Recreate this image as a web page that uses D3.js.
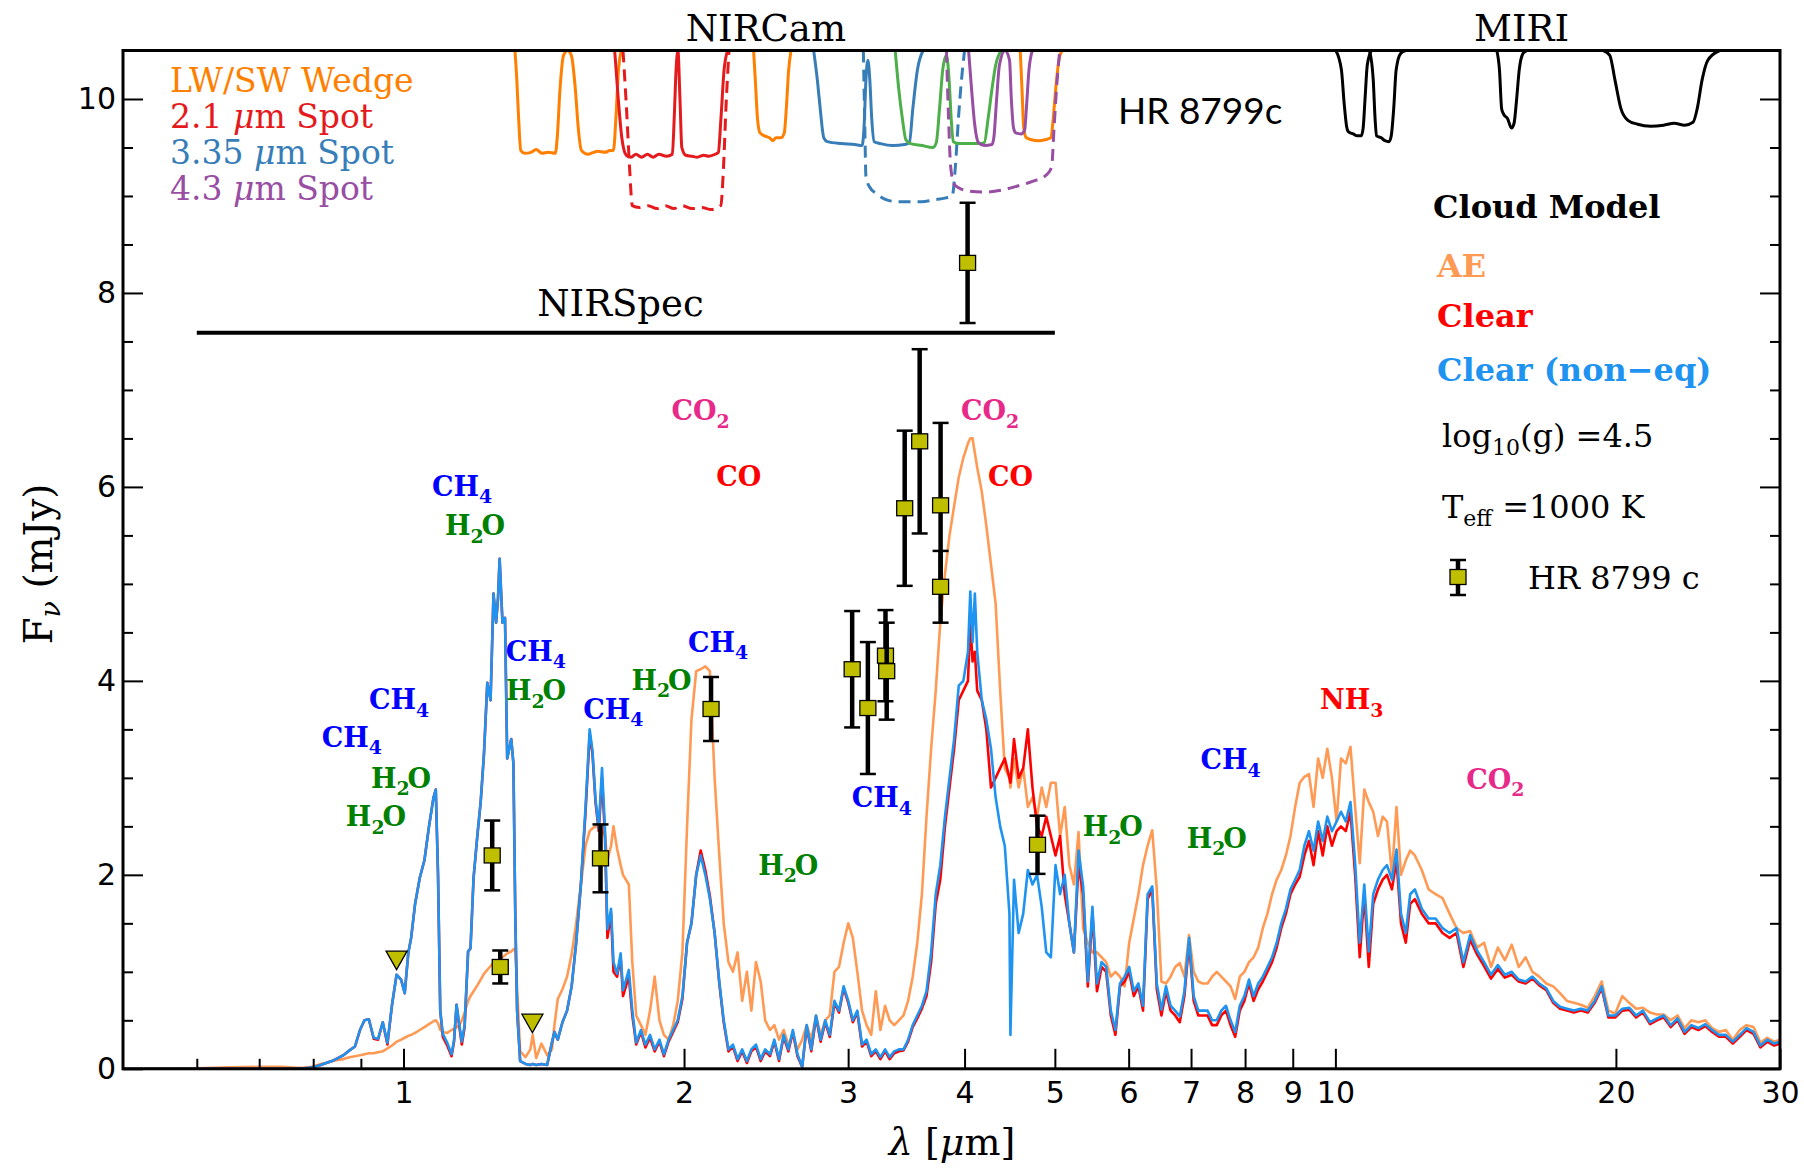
<!DOCTYPE html>
<html><head><meta charset="utf-8">
<script src="https://cdn.jsdelivr.net/npm/d3@7"></script>
<style>body{margin:0;background:#fff}svg{display:block}</style>
</head><body>
<svg id="chart" width="1804" height="1168"></svg>
<script>
// ---------------- DATA ----------------
const wavelength = [
0.50,0.55,0.60,0.65,0.70,0.74,0.77,
0.781,0.792,0.803,0.815,0.826,0.838,0.850,0.862,0.875,0.887,0.898,0.908,0.918,0.929,0.939,0.950,0.961,0.972,0.983,0.994,
1.003,1.012,1.019,1.029,1.041,1.053,1.065,1.077,1.083,1.089,1.095,1.102,1.114,1.126,
1.133,1.140,1.148,1.155,1.163,1.173,1.180,1.189,1.200,1.210,1.220,1.230,1.240,1.249,1.257,1.263,1.268,1.277,1.285,1.292,1.305,1.312,1.318,1.324,
1.334,1.352,1.368,1.376,1.388,1.406,1.426,1.443,1.452,1.464,1.481,1.498,
1.515,1.532,1.550,1.568,1.584,1.595,1.607,1.620,1.633,1.645,1.655,1.670,1.680,1.695,1.710,1.720,1.745,1.760,
1.777,1.798,1.818,1.839,1.860,1.882,1.903,1.925,1.947,1.969,1.992,
2.015,2.037,2.061,2.084,2.108,2.132,2.157,2.182,2.206,2.232,2.257,2.283,2.309,2.336,2.362,2.389,2.417,2.444,2.473,2.500,
2.529,2.558,2.588,2.617,2.647,2.678,2.708,2.739,2.771,2.803,2.835,2.867,2.900,2.933,2.967,3.001,3.035,3.069,
3.105,3.140,3.176,3.212,3.249,3.287,3.324,3.362,3.401,3.440,3.479,3.519,3.559,3.600,3.641,
3.683,3.725,3.767,3.811,3.854,3.898,3.943,3.988,4.034,4.057,4.080,4.103,4.127,
4.174,4.221,4.270,4.319,4.368,4.418,4.469,4.480,4.520,4.572,4.624,4.677,4.731,4.785,4.840,4.895,4.951,5.008,
5.065,5.123,5.182,5.241,5.301,5.362,5.424,5.486,5.548,5.612,5.676,5.741,5.807,5.873,5.940,6.008,
6.077,6.146,6.217,6.288,6.360,6.432,6.506,6.580,6.655,6.731,6.808,6.886,6.966,7.046,
7.126,7.208,7.291,7.374,7.459,7.544,7.631,7.718,7.807,7.896,7.986,8.078,8.170,
8.264,8.358,8.454,8.551,8.650,8.748,8.849,8.950,9.053,9.156,9.262,9.368,9.475,9.583,9.692,9.802,9.915,
10.03,10.14,10.26,10.38,10.50,10.62,10.74,10.86,10.98,11.11,11.24,11.36,11.50,11.63,11.76,11.90,12.03,12.17,
12.38,12.59,12.81,13.03,13.26,13.49,13.72,13.95,14.19,14.44,14.69,14.94,15.20,15.46,15.73,16.00,
16.27,16.55,16.84,17.13,17.42,17.72,18.03,18.34,18.66,18.98,19.31,19.63,19.97,20.32,20.67,21.02,21.38,21.76,22.13,22.51,22.90,23.29,23.70,24.10,24.52,24.94,25.37,25.80,26.24,26.70,27.16,27.62,28.10,28.58,29.07,29.57,30.0
];
const fluxAE = [
0,0,0.005,0.015,0.02,0.02,0.01,
0.01,0.015,0.03,0.05,0.06,0.08,0.09,0.1,0.12,0.13,0.14,0.15,0.16,0.16,0.17,0.18,0.21,0.24,0.28,0.3,
0.32,0.34,0.35,0.37,0.4,0.43,0.46,0.49,0.5,0.47,0.4,0.38,0.37,0.4,
0.41,0.43,0.45,0.5,0.58,0.7,0.75,0.8,0.86,0.92,0.98,1.02,1.06,1.09,1.11,1.12,1.13,1.15,1.17,1.19,1.21,1.23,1.24,0.83,
0.18,0.12,0.2,0.35,0.11,0.26,0.14,0.2,0.45,0.72,0.82,0.95,
1.18,1.5,1.9,2.3,2.45,2.48,2.5,2.5,2.45,2.4,2.15,2.3,2.5,2.27,2.1,2.0,1.9,1.1,
0.55,0.45,0.35,0.6,0.95,0.5,0.35,0.3,0.45,0.7,1.2,
2.5,3.6,4.1,4.12,4.15,4.1,3.0,2.2,1.5,1.1,1.0,1.2,0.7,1.0,0.6,1.1,0.9,0.5,0.4,0.45,
0.3,0.4,0.25,0.35,0.2,0.3,0.45,0.3,0.55,0.35,0.5,0.55,1.0,1.05,1.3,1.5,1.35,1.0,
0.6,0.45,0.35,0.8,0.4,0.65,0.5,0.45,0.5,0.55,0.7,0.95,1.3,1.8,2.6,
3.3,3.9,4.6,5.1,5.5,5.8,6.1,6.3,6.45,6.5,6.5,6.35,6.2,
5.95,5.6,5.2,4.8,3.9,3.1,3.0,2.9,3.2,2.9,3.1,2.7,2.8,2.6,2.9,2.7,2.95,2.95,
2.4,2.7,2.1,1.9,2.44,1.45,1.3,1.2,1.2,1.15,1.1,0.95,1.0,0.95,0.85,1.3,
1.55,1.8,2.1,2.3,2.46,1.85,0.9,0.88,0.95,1.05,1.09,0.95,1.38,1.0,
0.9,0.88,0.88,0.95,1.0,0.95,0.9,0.85,0.72,0.95,1.0,1.1,1.15,
1.25,1.45,1.6,1.8,1.95,2.05,2.2,2.4,2.7,2.95,3.01,3.04,2.7,3.2,3.0,3.3,3.0,
2.55,3.2,3.15,3.32,2.7,2.12,2.88,2.75,2.65,2.4,2.6,2.55,2.0,2.7,2.0,2.15,2.25,2.2,
2.05,1.85,1.8,1.76,1.6,1.45,1.4,1.42,1.25,1.3,1.05,1.25,1.12,1.28,1.05,1.15,
1.0,0.95,0.88,0.85,0.78,0.7,0.68,0.66,0.63,0.75,0.9,0.6,0.57,0.75,0.68,0.62,0.63,0.58,0.56,0.56,0.5,0.55,0.42,0.5,0.48,0.5,0.42,0.38,0.4,0.3,0.4,0.45,0.43,0.27,0.32,0.28,0.3
];
const fluxClear = [
0,0,0,0,0,0,0,
0.005,0.01,0.02,0.04,0.06,0.08,0.11,0.14,0.19,0.23,0.4,0.5,0.51,0.31,0.3,0.48,0.25,0.66,0.97,0.92,
0.78,1.2,1.35,1.7,1.97,2.15,2.5,2.8,2.88,2.0,0.6,0.33,0.24,0.13,
0.28,0.66,0.43,0.25,0.43,1.21,1.24,1.97,2.4,2.75,3.25,3.98,3.8,4.9,4.6,4.85,5.26,4.6,4.65,3.2,3.4,3.15,1.6,0.6,
0.08,0.05,0.04,0.05,0.04,0.05,0.04,0.27,0.38,0.3,0.48,0.6,
0.85,1.3,1.9,2.65,3.45,3.25,2.75,2.45,3.0,2.4,1.35,1.6,1.0,0.95,1.15,0.75,0.95,0.55,
0.25,0.38,0.22,0.32,0.18,0.28,0.13,0.28,0.38,0.48,0.72,
1.3,1.5,2.0,2.25,2.05,1.78,1.4,0.88,0.48,0.18,0.23,0.08,0.18,0.06,0.18,0.23,0.08,0.18,0.13,0.28,
0.08,0.33,0.18,0.38,0.13,0.02,0.43,0.18,0.53,0.28,0.48,0.33,0.68,0.58,0.83,0.68,0.48,0.58,
0.23,0.28,0.13,0.18,0.1,0.18,0.1,0.16,0.18,0.19,0.28,0.43,0.52,0.62,0.75,
1.1,1.7,1.95,2.5,2.9,3.3,3.8,3.9,4.0,4.6,4.2,4.3,3.9,
3.8,3.5,2.9,3.0,3.1,3.2,3.0,2.95,3.4,3.0,3.1,3.5,2.9,2.5,2.4,2.6,2.4,2.2,
2.4,1.8,1.5,1.2,2.1,1.8,0.85,1.6,0.8,1.05,1.0,0.55,0.35,0.85,0.9,1.0,
0.75,0.85,0.6,1.75,1.85,0.82,0.55,0.8,0.6,0.55,0.48,0.75,1.3,0.7,
0.55,0.55,0.55,0.45,0.45,0.55,0.6,0.45,0.33,0.6,0.7,0.88,0.7,
0.82,0.9,1.0,1.1,1.25,1.45,1.6,1.8,1.9,1.98,2.2,2.35,2.1,2.45,2.2,2.5,2.3,
2.45,2.5,2.45,2.65,2.0,1.15,1.8,1.05,1.7,1.85,1.95,2.0,1.85,2.15,1.5,1.3,1.7,1.75,
1.6,1.5,1.5,1.4,1.35,1.4,1.05,1.33,1.18,1.06,0.93,1.03,0.94,0.97,0.9,0.88,
0.93,0.86,0.81,0.68,0.62,0.6,0.58,0.6,0.58,0.68,0.83,0.53,0.53,0.6,0.61,0.53,0.58,0.46,0.5,0.53,0.43,0.5,0.36,0.43,0.4,0.44,0.38,0.33,0.33,0.26,0.33,0.4,0.36,0.22,0.28,0.24,0.26
];
const fluxNonEq = [
0,0,0,0,0,0,0,
0.005,0.01,0.02,0.04,0.06,0.08,0.11,0.14,0.19,0.23,0.4,0.5,0.51,0.32,0.31,0.48,0.27,0.66,0.97,0.92,
0.78,1.2,1.35,1.7,1.97,2.15,2.5,2.8,2.88,2.0,0.6,0.36,0.27,0.15,
0.3,0.66,0.45,0.28,0.45,1.21,1.24,1.97,2.4,2.75,3.25,3.98,3.8,4.9,4.6,4.85,5.26,4.6,4.65,3.2,3.4,3.15,1.6,0.6,
0.08,0.05,0.04,0.05,0.04,0.05,0.04,0.27,0.38,0.3,0.48,0.6,
0.85,1.3,1.9,2.7,3.5,3.28,2.78,2.48,3.1,2.48,1.44,1.65,1.1,0.98,1.19,0.81,1.02,0.6,
0.27,0.4,0.25,0.35,0.2,0.3,0.15,0.3,0.4,0.5,0.75,
1.3,1.5,2.0,2.2,2.0,1.75,1.4,0.9,0.5,0.2,0.25,0.1,0.2,0.08,0.2,0.25,0.1,0.2,0.15,0.3,
0.1,0.35,0.2,0.4,0.15,0.02,0.45,0.2,0.55,0.3,0.5,0.35,0.7,0.6,0.85,0.7,0.5,0.6,
0.25,0.3,0.15,0.2,0.12,0.2,0.12,0.18,0.2,0.2,0.3,0.45,0.55,0.65,0.8,
1.2,1.8,2.1,2.6,3.0,3.4,3.95,4.0,4.3,4.92,4.4,4.9,4.3,
3.8,3.6,3.3,2.8,2.5,2.3,1.6,0.35,1.95,1.4,1.6,2.05,1.9,2.0,1.67,1.2,1.15,2.1,
1.8,2.0,1.5,1.2,2.25,1.88,0.9,1.67,0.88,1.1,1.05,0.6,0.4,0.88,0.95,1.05,
0.8,0.88,0.65,1.8,1.88,0.88,0.61,0.85,0.65,0.6,0.54,0.8,1.35,0.75,
0.6,0.6,0.6,0.5,0.5,0.6,0.65,0.5,0.38,0.65,0.75,0.92,0.75,
0.88,0.95,1.05,1.15,1.3,1.5,1.65,1.85,1.95,2.05,2.3,2.45,2.25,2.55,2.35,2.6,2.45,
2.55,2.65,2.55,2.75,2.12,1.3,1.9,1.21,1.8,1.95,2.05,2.1,1.95,2.26,1.6,1.4,1.8,1.85,
1.65,1.55,1.55,1.45,1.4,1.45,1.1,1.38,1.22,1.1,0.97,1.07,0.97,1.0,0.92,0.9,
0.95,0.88,0.83,0.7,0.64,0.62,0.6,0.62,0.6,0.7,0.85,0.55,0.55,0.62,0.63,0.55,0.6,0.48,0.52,0.55,0.45,0.52,0.38,0.45,0.42,0.46,0.4,0.35,0.35,0.28,0.35,0.42,0.38,0.24,0.3,0.26,0.28
];

// HR 8799 c photometry
const obsWave = [1.245, 1.27, 1.627, 2.138, 3.03, 3.15, 3.29, 3.30, 3.45, 3.58, 3.77, 3.77, 4.03, 4.79];
const obsFlux = [2.2, 1.05, 2.17, 3.71, 4.12, 3.72, 4.26, 4.1, 5.78, 6.47, 5.81, 4.97, 8.31, 2.31];
const obsErr  = [0.36, 0.17, 0.35, 0.33, 0.6, 0.68, 0.47, 0.5, 0.8, 0.95, 0.85, 0.37, 0.62, 0.3];
const limitWave = [0.983, 1.375];
const limitFlux = [1.12, 0.47];

// filter transmission curves (drawn hanging from top of panel, in flux units)
const filtWedgeA = [[1.317,10.5],[1.323,10.2],[1.329,9.8],[1.336,9.47],[1.349,9.44],[1.370,9.45],[1.388,9.48],[1.408,9.44],[1.430,9.45],[1.455,9.44],[1.462,9.6],[1.472,10.1],[1.485,10.45],[1.500,10.5],[1.514,10.45],[1.529,10.1],[1.540,9.7],[1.552,9.47],[1.577,9.43],[1.600,9.45],[1.615,9.46],[1.646,9.45],[1.665,9.47],[1.680,9.47],[1.690,9.8],[1.701,10.3],[1.712,10.5]];
const filtWedgeB = [[2.375,10.5],[2.385,10.2],[2.398,9.8],[2.413,9.65],[2.440,9.62],[2.470,9.6],[2.490,9.57],[2.510,9.6],[2.540,9.6],[2.562,9.65],[2.575,9.9],[2.590,10.3],[2.605,10.5]];
const filtWedgeC = [[4.59,10.5],[4.61,10.1],[4.63,9.7],[4.66,9.6],[4.72,9.58],[4.80,9.57],[4.88,9.58],[4.95,9.6],[4.98,9.8],[5.01,10.1],[5.05,10.4],[5.09,10.5]];
const filtSpot21 = [[1.685,10.5],[1.700,10.0],[1.715,9.6],[1.734,9.42],[1.755,9.4],[1.776,9.43],[1.801,9.4],[1.827,9.43],[1.853,9.4],[1.879,9.43],[1.915,9.41],[1.943,9.43],[1.952,9.8],[1.961,10.3],[1.970,10.5],[1.980,10.0],[1.989,9.5],[2.008,9.42],[2.040,9.41],[2.066,9.4],[2.100,9.42],[2.126,9.41],[2.160,9.43],[2.177,9.45],[2.191,9.8],[2.208,10.3],[2.228,10.5]];
const filtSpot21Dash = [[1.720,10.5],[1.735,9.9],[1.748,9.3],[1.760,8.9],[1.790,8.88],[1.830,8.9],[1.870,8.87],[1.910,8.9],[1.950,8.87],[1.990,8.9],[2.040,8.87],[2.090,8.88],[2.140,8.86],[2.190,8.9],[2.205,9.3],[2.218,9.9],[2.235,10.5]];
const filtSpot335 = [[2.755,10.5],[2.780,10.2],[2.800,9.9],[2.825,9.6],[2.850,9.56],[2.950,9.54],[3.050,9.53],[3.105,9.52],[3.120,9.7],[3.135,10.2],[3.150,10.4],[3.165,10.2],[3.180,9.8],[3.200,9.56],[3.250,9.54],[3.350,9.52],[3.450,9.53],[3.490,9.55],[3.520,9.9],[3.560,10.3],[3.610,10.5]];
const filtSpot335Dash = [[3.115,10.5],[3.125,9.8],[3.135,9.2],[3.160,9.1],[3.220,9.02],[3.300,8.96],[3.400,8.94],[3.500,8.94],[3.600,8.94],[3.700,8.96],[3.820,8.98],[3.880,9.0],[3.910,9.3],[3.940,9.8],[3.970,10.2],[4.000,10.5]];
const filtGreen = [[3.370,10.5],[3.400,10.1],[3.430,9.8],[3.460,9.58],[3.500,9.54],[3.600,9.52],[3.700,9.5],[3.730,9.55],[3.760,9.9],[3.790,10.3],[3.825,10.45],[3.850,10.2],[3.870,9.8],[3.890,9.56],[3.950,9.54],[4.050,9.54],[4.150,9.54],[4.200,9.55],[4.240,9.8],[4.280,10.1],[4.320,10.35],[4.380,10.5]];
const filtSpot43 = [[4.040,10.5],[4.070,10.1],[4.100,9.75],[4.140,9.55],[4.200,9.52],[4.280,9.53],[4.300,9.6],[4.330,10.0],[4.360,10.35],[4.420,10.5],[4.470,10.4],[4.490,10.0],[4.515,9.7],[4.540,9.65],[4.600,9.64],[4.640,9.68],[4.660,9.9],[4.690,10.3],[4.730,10.5]];
const filtSpot43Dash = [[3.825,10.5],[3.845,9.8],[3.865,9.3],[3.900,9.12],[3.950,9.08],[4.050,9.05],[4.200,9.04],[4.380,9.06],[4.550,9.1],[4.730,9.15],[4.900,9.22],[4.960,9.3],[4.990,9.7],[5.020,10.1],[5.060,10.5]];
const miri1 = [[10.01,10.5],[10.15,10.3],[10.22,9.95],[10.28,9.72],[10.33,9.66],[10.45,9.64],[10.55,9.62],[10.66,9.62],[10.71,9.7],[10.76,10.0],[10.82,10.35],[10.93,10.5]];
const miri2 = [[10.88,10.5],[10.98,10.2],[11.03,9.8],[11.07,9.62],[11.20,9.6],[11.30,9.57],[11.42,9.56],[11.48,9.62],[11.55,9.9],[11.62,10.3],[11.75,10.47],[11.90,10.5]];
const miri3 = [[14.90,10.5],[15.00,10.3],[15.08,9.9],[15.16,9.84],[15.30,9.8],[15.45,9.7],[15.55,9.75],[15.65,10.0],[15.75,10.3],[15.90,10.47],[16.05,10.5]];
const miri4 = [[19.38,10.5],[19.70,10.45],[19.95,10.2],[20.25,9.9],[20.60,9.78],[21.10,9.74],[21.80,9.72],[22.50,9.73],[23.10,9.75],[23.70,9.73],[24.20,9.76],[24.45,9.9],[24.75,10.2],[25.10,10.4],[25.85,10.5]];

// molecule annotations: [formula, wavelength, flux, colour]
const molecules = [
["CO2",2.084,6.79,"#e7298a"],["CO",2.29,6.11,"#ff0000"],
["CH4",1.156,6.01,"#0000ff"],["H2O",1.193,5.60,"#008000"],
["CH4",1.387,4.31,"#0000ff"],["H2O",1.387,3.90,"#008000"],
["CH4",0.989,3.81,"#0000ff"],["CH4",0.880,3.42,"#0000ff"],
["H2O",0.994,3.00,"#008000"],["H2O",0.934,2.60,"#008000"],
["CH4",1.679,3.71,"#0000ff"],["H2O",1.892,4.01,"#008000"],
["CH4",2.175,4.40,"#0000ff"],["H2O",2.587,2.10,"#008000"],
["CH4",3.26,2.80,"#0000ff"],["CO2",4.26,6.79,"#e7298a"],["CO",4.48,6.11,"#ff0000"],
["H2O",5.77,2.50,"#008000"],["H2O",7.46,2.38,"#008000"],["CH4",7.72,3.19,"#0000ff"],
["NH3",10.41,3.81,"#ff0000"],["CO2",14.85,2.99,"#e7298a"]
];

const xTicks = [1,2,3,4,5,6,7,8,9,10,20,30];
const xMinorTicks = [0.6,0.7,0.8,0.9];
const yTicks = [0,2,4,6,8,10];
const yMinorTicks = [0.5,1,1.5,2.5,3,3.5,4.5,5,5.5,6.5,7,7.5,8.5,9,9.5,10.5];

// ---------------- CHART ----------------
const svg = d3.select("#chart");
const L=123, R=1780, T=50.5, B=1068.8;
const x = d3.scaleLog().domain([0.5,30]).range([L,R]);
const y = d3.scaleLinear().domain([0,10.5]).range([B,T]);
const SERIF = "DejaVu Serif";

svg.append("rect").attr("width",1804).attr("height",1168).attr("fill","#fff");
svg.append("defs").append("clipPath").attr("id","clip")
  .append("rect").attr("x",L).attr("y",T).attr("width",R-L).attr("height",B-T);

const plot = svg.append("g").attr("clip-path","url(#clip)");
const line = d3.line().x(d=>x(d[0])).y(d=>y(d[1]));
const smooth = d3.line().x(d=>x(d[0])).y(d=>y(d[1])).curve(d3.curveMonotoneX);

// model spectra
const series = [
  {vals: fluxAE, color:"#ff9a55"},
  {vals: fluxClear, color:"#ff0000"},
  {vals: fluxNonEq, color:"#1f93f0"}
];
series.forEach(s=>{
  plot.append("path").datum(wavelength.map((w,i)=>[w,s.vals[i]]))
    .attr("d",line).attr("fill","none").attr("stroke",s.color)
    .attr("stroke-width",2.6).attr("stroke-linejoin","round");
});

// filter curves
const filters = [
  {d:filtWedgeA,c:"#ff7f00"},{d:filtWedgeB,c:"#ff7f00"},{d:filtWedgeC,c:"#ff7f00"},
  {d:filtSpot21,c:"#e41a1c"},{d:filtSpot21Dash,c:"#e41a1c",dash:true},
  {d:filtSpot335,c:"#377eb8"},{d:filtSpot335Dash,c:"#377eb8",dash:true},
  {d:filtGreen,c:"#4daf4a"},
  {d:filtSpot43,c:"#984ea3"},{d:filtSpot43Dash,c:"#984ea3",dash:true},
  {d:miri1,c:"#000"},{d:miri2,c:"#000"},{d:miri3,c:"#000"},{d:miri4,c:"#000"}
];
filters.forEach(f=>{
  plot.append("path").datum(f.d).attr("d",smooth).attr("fill","none")
    .attr("stroke",f.c).attr("stroke-width",3)
    .attr("stroke-dasharray",f.dash?"12,7":null);
});

// NIRSpec bar
svg.append("line").attr("x1",x(0.6)).attr("x2",x(5.0)).attr("y1",y(7.59)).attr("y2",y(7.59))
  .attr("stroke","#000").attr("stroke-width",4);
svg.append("text").attr("x",x(1.709)).attr("y",y(7.76)).attr("text-anchor","middle")
  .attr("font-family",SERIF).attr("font-size",37).text("NIRSpec");

// molecule labels
function formula(t, str, size){
  const parts = str.match(/[A-Za-z]+|\d+/g);
  let shifted=false;
  parts.forEach(p=>{
    if(/\d/.test(p)){
      t.append("tspan").attr("font-size",size*0.7).attr("dy",size*0.28).text(p); shifted=true;
    } else {
      const s=t.append("tspan").text(p);
      if(shifted){ s.attr("dy",-size*0.28).attr("dx",-size*0.08); shifted=false; }
    }
  });
}
molecules.forEach(m=>{
  const fs=27;
  const t=svg.append("text").attr("x",x(m[1])).attr("y",y(m[2])+fs*0.36)
    .attr("text-anchor","middle").attr("font-family",SERIF).attr("font-weight","bold")
    .attr("font-size",fs).attr("fill",m[3]);
  formula(t,m[0],fs);
});

// photometry
const pts = svg.append("g");
function errMarker(g,cx,cy,top,bot){
  g.append("line").attr("x1",cx).attr("x2",cx).attr("y1",top).attr("y2",bot).attr("stroke","#000").attr("stroke-width",4.5);
  [top,bot].forEach(yy=>g.append("line").attr("x1",cx-8).attr("x2",cx+8).attr("y1",yy).attr("y2",yy).attr("stroke","#000").attr("stroke-width",2.5));
  g.append("rect").attr("x",cx-8).attr("y",cy-7.5).attr("width",16).attr("height",15)
    .attr("fill","#bfbf00").attr("stroke","#000").attr("stroke-width",1.3);
}
obsWave.forEach((w,i)=>{
  errMarker(pts,x(w),y(obsFlux[i]),y(obsFlux[i]+obsErr[i]),y(obsFlux[i]-obsErr[i]));
});
limitWave.forEach((w,i)=>{
  const cx=x(w), cy=y(limitFlux[i]);
  pts.append("path").attr("d",`M${cx-10.5},${cy-9}L${cx+10.5},${cy-9}L${cx},${cy+9.5}Z`)
    .attr("fill","#bfbf00").attr("stroke","#000").attr("stroke-width",1.3);
});

// axes
function styleAxis(g){
  g.select(".domain").remove();
  g.selectAll(".tick line").attr("stroke","#000").attr("stroke-width",2);
  g.selectAll("text").attr("font-family","DejaVu Sans").attr("font-size",30).attr("fill","#000");
}
svg.append("g").attr("transform",`translate(0,${B})`)
  .call(d3.axisBottom(x).tickValues(xTicks).tickFormat(d3.format("d")).tickSize(-20).tickPadding(13)).call(styleAxis);
svg.append("g").attr("transform",`translate(0,${B})`)
  .call(d3.axisBottom(x).tickValues(xMinorTicks).tickFormat("").tickSize(-10)).call(styleAxis);
svg.append("g").attr("transform",`translate(${L},0)`)
  .call(d3.axisLeft(y).tickValues(yTicks).tickSize(-20).tickPadding(7)).call(styleAxis);
svg.append("g").attr("transform",`translate(${L},0)`)
  .call(d3.axisLeft(y).tickValues(yMinorTicks).tickFormat("").tickSize(-10)).call(styleAxis);
svg.append("g").attr("transform",`translate(${R},0)`)
  .call(d3.axisRight(y).tickValues(yTicks).tickFormat("").tickSize(-20)).call(styleAxis);
svg.append("g").attr("transform",`translate(${R},0)`)
  .call(d3.axisRight(y).tickValues(yMinorTicks).tickFormat("").tickSize(-10)).call(styleAxis);

svg.append("rect").attr("x",L).attr("y",T).attr("width",R-L).attr("height",B-T)
  .attr("fill","none").attr("stroke","#000").attr("stroke-width",3);

// axis titles
const xt = svg.append("text").attr("x",(L+R)/2+0.5).attr("y",1155).attr("text-anchor","middle")
  .attr("font-family",SERIF).attr("font-size",38);
xt.append("tspan").attr("font-style","italic").text("λ");
xt.append("tspan").text(" [");
xt.append("tspan").attr("font-style","italic").text("μ");
xt.append("tspan").text("m]");
const yt = svg.append("text").attr("transform","translate(52,564) rotate(-90)").attr("text-anchor","middle")
  .attr("font-family",SERIF).attr("font-size",39);
yt.append("tspan").text("F");
yt.append("tspan").attr("font-style","italic").attr("font-size",27).attr("dy",8).text("ν");
yt.append("tspan").attr("dy",-8).text(" (mJy)");

// instrument titles
svg.append("text").attr("x",x(2.448)).attr("y",41).attr("text-anchor","middle")
  .attr("font-family",SERIF).attr("font-size",37).text("NIRCam");
svg.append("text").attr("x",x(15.84)).attr("y",41).attr("text-anchor","middle")
  .attr("font-family",SERIF).attr("font-size",37).text("MIRI");
svg.append("text").attr("x",1118).attr("y",124).attr("font-family","Lato")
  .attr("font-size",37).text("HR 8799c");

// filter legend (top-left)
const fl = [["LW/SW Wedge","#ff7f00"],["2.1 ","#e41a1c"],["3.35 ","#377eb8"],["4.3 ","#984ea3"]];
fl.forEach((f,i)=>{
  const t=svg.append("text").attr("x",170).attr("y",92+i*36).attr("font-family",SERIF)
    .attr("font-size",33).attr("fill",f[1]);
  if(i===0){ t.text(f[0]); }
  else { t.append("tspan").text(f[0]); t.append("tspan").attr("font-style","italic").text("μ"); t.append("tspan").text("m Spot"); }
});

// model legend (right)
const lg = svg.append("g").attr("font-family",SERIF);
lg.append("text").attr("x",1433).attr("y",218).attr("font-size",32).attr("font-weight","bold").text("Cloud Model");
lg.append("text").attr("x",1437).attr("y",277).attr("font-size",32).attr("font-weight","bold").attr("fill","#ff9a55").text("AE");
lg.append("text").attr("x",1437).attr("y",327).attr("font-size",32).attr("font-weight","bold").attr("fill","#ff0000").text("Clear");
lg.append("text").attr("x",1437).attr("y",381).attr("font-size",32).attr("font-weight","bold").attr("fill","#1f93f0").text("Clear (non−eq)");
const lgg = lg.append("text").attr("x",1442).attr("y",447).attr("font-size",32);
lgg.append("tspan").text("log");
lgg.append("tspan").attr("font-size",22).attr("dy",8).text("10");
lgg.append("tspan").attr("dy",-8).text("(g) =4.5");
const lgt = lg.append("text").attr("x",1442).attr("y",518).attr("font-size",32);
lgt.append("tspan").text("T");
lgt.append("tspan").attr("font-size",22).attr("dy",8).text("eff");
lgt.append("tspan").attr("dy",-8).text(" =1000 K");
errMarker(lg,1458,577,560,595);
lg.append("text").attr("x",1528).attr("y",589).attr("font-size",32).text("HR 8799 c");
</script>
</body></html>
